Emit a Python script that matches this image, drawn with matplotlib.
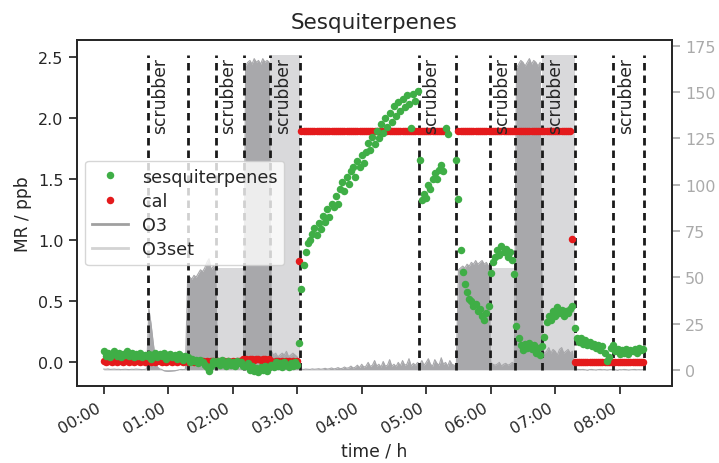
import numpy as np
import pandas as pd
import matplotlib
matplotlib.use('Agg')
import matplotlib.pyplot as plt
import matplotlib.dates as mdates
from matplotlib.lines import Line2D

# 2-minute samples starting at 00:00
sesq = [0.09, 0.05, 0.08, 0.04, 0.07, 0.09, 0.05, 0.08, 0.04, 0.07, 0.06, 0.09, 0.05, 0.08, 0.04, 0.07, 0.05, 0.08, 0.04, 0.06, 0.05,
        0.07, 0.03, 0.06, 0.08, 0.04, 0.07, 0.05, 0.08, 0.03, 0.06, 0.07, 0.04, 0.06, 0.03, 0.07, 0.05, 0.02, 0.05,
        0.04, 0.0, 0.03, 0.01, 0.02, -0.01, 0.02, 0.0, -0.02, -0.04, -0.07, -0.03, 0.01, -0.01,
        0.01, -0.02, 0.02, -0.01, -0.03, 0.01, -0.02, 0.0, -0.03, 0.01, -0.01, 0.0, -0.03,
        -0.03, -0.01, -0.06, -0.03, -0.07, -0.05, -0.08, -0.04, -0.06, -0.03, -0.07, -0.04,
        -0.02, -0.04, 0.0, -0.03, -0.01, -0.04, 0.0, -0.02, -0.04, -0.01, -0.03, 0.0, -0.02,
        0.16, 0.6, 0.8, 0.9, 0.98, 1.0,
        1.05, 1.1, 1.04, 1.14, 1.09, 1.2, 1.15, 1.26, 1.19, 1.3,
        1.27, 1.36, 1.3, 1.42, 1.48, 1.4, 1.52, 1.46, 1.57, 1.6,
        1.52, 1.65, 1.6, 1.7, 1.63, 1.72, 1.8, 1.74, 1.85, 1.79,
        1.9, 1.84, 1.95, 1.88, 2.0, 1.93, 2.04, 1.97, 2.1, 2.02,
        2.13, 2.06, 2.16, 2.09, 2.19, 2.12, 1.92, 2.2, 2.14, 2.22,
        1.66, 1.33, 1.38, 1.35, 1.45, 1.42, 1.5, 1.55, 1.5, 1.58, 1.62, 1.57, 1.92, 1.87,
        np.nan, np.nan, np.nan,
        1.66, 1.34, 0.92, 0.74, 0.64, 0.58, 0.52, 0.5, 0.46, 0.48, 0.42, 0.44, 0.38, 0.35, 0.4, 0.46,
        0.73, 0.82, 0.86, 0.92, 0.88, 0.95, 0.9, 0.93, 0.86, 0.9, 0.84, 0.72,
        0.3, 0.2, 0.14, 0.1, 0.15, 0.12, 0.16, 0.11, 0.14, 0.08, 0.12, 0.06, 0.13, 0.21,
        0.33, 0.38, 0.35, 0.42, 0.38, 0.45, 0.4, 0.43, 0.38, 0.42, 0.4, 0.44, 0.46,
        0.28, 0.2, 0.17, 0.2, 0.15, 0.18, 0.14, 0.17, 0.13, 0.15, 0.12, 0.14, 0.1, 0.13, 0.08, 0.01,
        0.04, 0.12, 0.14, 0.09, 0.11, 0.07, 0.1, 0.08, 0.11, 0.07, 0.1, 0.09, 0.11, 0.08, 0.12, 0.1, 0.11]

cal = [0.01, 0.0, 0.01, 0.01, 0.0, 0.01, 0.0, 0.01, 0.01, 0.0, 0.01, 0.01, 0.0, 0.01, 0.0, 0.01, 0.01, 0.0, 0.01, 0.0,
       0.01, 0.01, 0.0, 0.01, 0.0, 0.01, 0.01, 0.0, 0.01, 0.0, 0.01, 0.01, 0.0, 0.01, 0.0, 0.01, 0.01, 0.0, 0.01, 0.0,
       0.01, 0.01, 0.0, 0.01, 0.0, 0.01, 0.01, 0.0, 0.01, 0.0, 0.01, 0.01, 0.0, 0.01, 0.0, 0.01, 0.01, 0.0, 0.01, 0.0,
       0.01, 0.0, 0.01, 0.01, 0.0,
       0.03, 0.03, 0.02, 0.03, 0.03, 0.02, 0.03, 0.03, 0.02, 0.03, 0.03, 0.02, 0.03,
       0.01, 0.0, 0.01, 0.01, 0.0, 0.01, 0.0, 0.01, 0.01, 0.0, 0.01, 0.0, 0.01,
       0.83,
       1.9, 1.9, 1.9, 1.9, 1.9, 1.9, 1.9, 1.9, 1.9, 1.9, 1.9, 1.9, 1.9, 1.9, 1.9, 1.9, 1.9,
       1.9, 1.9, 1.9, 1.9, 1.9, 1.9, 1.9, 1.9, 1.9, 1.9, 1.9, 1.9, 1.9, 1.9, 1.9, 1.9, 1.9,
       1.9, 1.9, 1.9, 1.9, 1.9, 1.9, 1.9, 1.9, 1.9, 1.9, 1.9, 1.9, 1.9, 1.9, 1.9, 1.9, 1.9,
       1.9, 1.9, 1.9, 1.9, 1.9, 1.9, 1.9, 1.9, 1.9, 1.9, 1.9, 1.9, 1.9, 1.9, 1.9, 1.9, 1.9,
       np.nan, np.nan, np.nan, np.nan, np.nan,
       1.9, 1.9, 1.9, 1.9, 1.9, 1.9, 1.9, 1.9, 1.9, 1.9, 1.9, 1.9, 1.9, 1.9, 1.9, 1.9, 1.9, 1.9,
       1.9, 1.9, 1.9, 1.9, 1.9, 1.9, 1.9, 1.9, 1.9, 1.9, 1.9, 1.9, 1.9, 1.9, 1.9, 1.9, 1.9, 1.9,
       1.9, 1.9, 1.9, 1.9, 1.9, 1.9, 1.9, 1.9, 1.9, 1.9, 1.9, 1.9, 1.9, 1.9, 1.9, 1.9, 1.9,
       1.01,
       0.0, 0.0, 0.0, 0.0, 0.0, 0.0, 0.0, 0.0, 0.0, 0.0, 0.0, 0.0, 0.0, 0.0, 0.0, 0.0, 0.0,
       0.0, 0.0, 0.0, 0.0, 0.0, 0.0, 0.0, 0.0, 0.0, 0.0, 0.0, 0.0, 0.0, 0.0, 0.0, 0.0]

o3 = [0.4, 0.3, 0.5, 0.2, 0.3, 0.4, 0.2, 0.3, 0.1, 0.2, 0.3, 0.2, 0.1, 0.3, 0.2, 0.4, 0.3, 0.2, 0.1, 0.2, 0.5,
      33, 25, 15, 6, 1.5, 0.5, 0.2, -0.5, -0.7, -0.8, -0.7, -0.6, -0.5, -0.3, 0.0, 0.2, 0.1, 0.3,
      48, 50, 49, 51, 50, 52, 54, 53, 55, 58, 60, 54, 56, 55,
      1.5, 0.8, 0.5, 0.6, 0.4, 0.5, 0.3, 0.5, 0.4, 0.6, 0.5, 0.4, 0.3,
      164, 166, 167, 165, 168, 166, 167, 165, 168, 166, 167, 166,
      10, 8, 9, 7, 8, 9, 8, 10, 7, 8, 9, 8, 7, 0.5,
      0.3, 0.2, 0.4, 0.3, 0.2, 0.5, 0.3, 0.4, 0.6, 0.3, 0.5, 0.8, 0.4, 0.6, 1.0, 0.5, 0.7, 1.2, 0.6, 0.8,
      1.5, 0.9, 1.1, 2.0, 1.0, 1.4, 2.5, 1.2, 3.0, 1.5, 2.0, 4.0, 1.8, 2.5, 5.0, 2.0, 3.0, 1.5, 4.5, 2.0,
      2.5, 5.5, 2.0, 3.0, 1.8, 4.0, 2.2, 5.0, 2.5, 3.0, 6.0, 2.0, 3.5, 2.5, 4.0,
      3.0, 5.0, 2.5, 4.0, 6.0, 3.0, 2.0, 5.5, 3.5, 2.5, 6.5, 3.0, 4.0, 2.0, 5.0, 3.0, 2.5,
      2.0, 54, 55, 56, 55, 57, 56, 58, 57, 59, 57, 58, 59, 57, 58, 56,
      4, 3, 2.5, 3, 4, 2, 3, 3.5, 2.5, 3, 4, 3,
      163, 165, 167, 166, 164, 166, 168, 165, 167, 166, 164, 166,
      11, 9, 10, 12, 9, 11, 10, 8, 11, 12, 9, 10, 11, 9, 10, 0.5,
      0.3, 0.2, 0.1, 0.2, 0.0, -0.2, 0.1, 0.2, 0.0, -0.1, 0.1, 0.2, 0.0, 0.1, -0.1, 0.0,
      0.2, 0.1, 0.0, -0.2, 0.1, 0.0, 0.2, 0.1, -0.1, 0.0, 0.1, 0.2, 0.0, 0.1, 0.0, 0.1]

assert len(sesq) == len(cal) == len(o3)

# ozone set point (step changes, minutes after 00:00)
o3set_min = [0, 104.5, 130.5, 155, 183, 359, 383, 408, 438, 503]
o3set_val = [0, 55, 0, 170, 0, 55, 0, 170, 0, 0]

# scrubber periods (minutes after 00:00)
scrub_start = [41, 104.5, 155, 293, 359, 408, 474]
scrub_end = [78, 130.5, 183, 328, 383, 438, 503]

t0 = pd.Timestamp('2021-06-01 00:00')
def tm(m):
    return (t0 + pd.to_timedelta(np.asarray(m, dtype=float), unit='min')).to_pydatetime()

t = tm(np.arange(len(sesq)) * 2)
tset = tm(o3set_min)

plt.rcParams['font.family'] = 'DejaVu Sans'
plt.rcParams['text.color'] = '#262626'
plt.rcParams['axes.labelcolor'] = '#262626'
plt.rcParams['xtick.color'] = '#262626'
plt.rcParams['ytick.color'] = '#262626'

fig = plt.figure(figsize=(7.19, 4.64), dpi=100)
ax = fig.add_axes([0.1064, 0.1653, 0.8283, 0.7474])
ax2 = ax.twinx()

c_o3 = '#a8a8ab'
c_o3set = '#d9d9db'
ax2.fill_between(tset, o3set_val, step='post', color=c_o3set, lw=0)
ax2.fill_between(t, o3, color=c_o3, lw=0)
ax2.plot(t, o3, color=c_o3, lw=0.8)
ax2.vlines(tm(scrub_start + scrub_end), 0, 170, colors='#1a1a1a',
           linestyles=(0, (2.7, 1.8)), lw=2)
ax2.set_ylim(-8.9, 178.3)
ax2.tick_params(axis='y', colors='#aaaaaa', labelsize=11.5, length=6, width=1.25)

ax.set_zorder(ax2.get_zorder() + 1)
ax.patch.set_visible(False)

ms = 5.4
ax.plot(t, cal, 'o', color='#e41a1c', ms=ms, mew=0)
ax.plot(t, sesq, 'o', color='#3fae46', ms=ms, mew=0)
for s in scrub_start:
    ax.text(tm([s + 11.5])[0], 2.5, 'scrubber', rotation=90, ha='center', va='top', fontsize=12.3)

ax.set_ylim(-0.197, 2.646)
ax.set_xlim(tm([-25.3])[0], tm([528.7])[0])
ax.set_yticks([0.0, 0.5, 1.0, 1.5, 2.0, 2.5])
ax.xaxis.set_major_locator(mdates.HourLocator())
ax.xaxis.set_major_formatter(mdates.DateFormatter('%H:%M'))
ax.tick_params(labelsize=11.5, length=6, width=1.25)
plt.setp(ax.get_xticklabels(), rotation=30, ha='right')
ax.set_xlabel('time / h', fontsize=12.3)
ax.set_ylabel('MR / ppb', fontsize=12.3)
ax.set_title('Sesquiterpenes', fontsize=15.5, pad=8)
for a in (ax, ax2):
    for sp in a.spines.values():
        sp.set_linewidth(1.25)
        sp.set_color('#262626')

handles = [Line2D([], [], ls='', marker='o', color='#3fae46', ms=ms, mew=0),
           Line2D([], [], ls='', marker='o', color='#e41a1c', ms=ms, mew=0),
           Line2D([], [], color='#a0a0a0', lw=2),
           Line2D([], [], color='#d3d3d3', lw=2)]
ax.legend(handles, ['sesquiterpenes', 'cal', 'O3', 'O3set'], loc='center left',
          fontsize=12.7, labelspacing=0.35)

fig.savefig('out.png', dpi=100)
